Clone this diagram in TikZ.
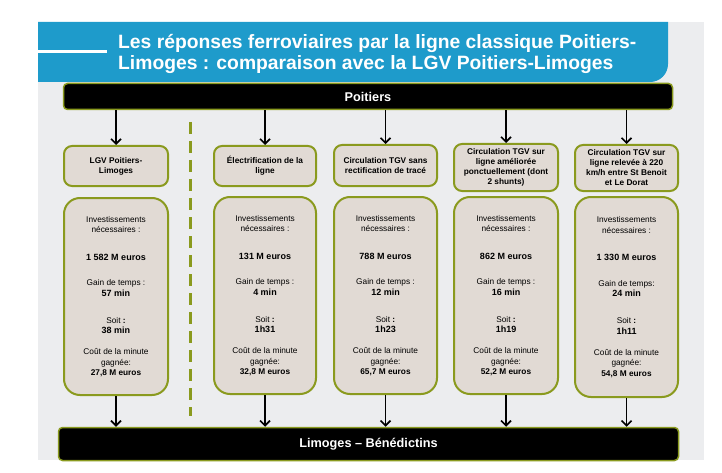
\documentclass[tikz,border=0pt]{standalone}
\usepackage{fontspec}
\setmainfont{Liberation Sans}
\usetikzlibrary{arrows.meta}
\definecolor{hdrblue}{HTML}{1E9BCB}
\definecolor{bggray}{HTML}{ECEDEF}
\definecolor{oliveln}{HTML}{8A9A1E}
\definecolor{boxfill}{HTML}{E1DAD4}
\newcommand{\rsval}[1]{{\fontsize{9}{10.5}\selectfont\bfseries #1}}
\newcommand{\rsinfo}[5]{Investissements\\nécessaires :\\[17pt]\rsval{#1}\\[15pt]#2\\\rsval{#3}\\[16.5pt]Soit \textbf{:}\\\rsval{#4}\\[10.5pt]Coût de la minute\\gagnée:\\\textbf{#5}}
\begin{document}
\begin{tikzpicture}[x=1pt,y=-1pt,
  bar/.style={draw=oliveln, line width=1.5pt, fill=black, rounded corners=4pt, text=white,
    font=\bfseries\fontsize{12.7}{15}\selectfont, inner sep=0pt},
  hbox/.style={draw=oliveln, line width=2pt, fill=boxfill, rounded corners=8pt, align=center,
    font=\bfseries\fontsize{8.3}{10}\selectfont, inner sep=0pt},
  ibox/.style={draw=oliveln, line width=2pt, fill=boxfill, rounded corners=16pt, align=center,
    font=\fontsize{8.3}{10.5}\selectfont, inner sep=0pt},
  flow/.style={line width=1.6pt, -{Straight Barb[length=5pt,width=10pt]}},
  sepline/.style={draw=oliveln, line width=3pt, dash pattern=on 12pt off 7pt}
]
\useasboundingbox (0,0) rectangle (722,473);
\fill[white] (0,0) rectangle (722,473);
\fill[bggray] (38,22) rectangle (704,460);
% header band
\fill[hdrblue] (38,22) -- (668,22) -- (668,64) .. controls (668,74) and (660,82) .. (650,82) -- (38,82) -- cycle;
\draw[white, line width=3pt] (38,52) -- (107,52);
\node[anchor=north west, text=white, align=left, inner sep=0pt,
  font=\bfseries\fontsize{19.3}{21}\selectfont] (title) at (118,34)
  {Les réponses ferroviaires par la ligne classique Poitiers-\\Limoges : comparaison avec la LGV Poitiers-Limoges};
% bars
\node[bar, minimum width=609pt, minimum height=26pt] (poit) at (368,96.5) {Poitiers};
\node[bar, minimum width=620pt, minimum height=33pt] (limo) at (368.5,444) {Limoges -- Bénédictins};
% title boxes
\node[hbox, minimum width=104pt, minimum height=40pt] (t1) at (116,166) {LGV Poitiers-\\Limoges};
\node[hbox, minimum width=102pt, minimum height=40pt] (t2) at (265,166) {Électrification de la\\ligne};
\node[hbox, minimum width=103pt, minimum height=41pt] (t3) at (385.5,165.5) {Circulation TGV sans\\rectification de tracé};
\node[hbox, minimum width=104pt, minimum height=47pt] (t4) at (506,167.5) {Circulation TGV sur\\ligne améliorée\\ponctuellement (dont\\2 shunts)};
\node[hbox, minimum width=103pt, minimum height=46pt] (t5) at (626.5,168) {Circulation TGV sur\\ligne relevée à 220\\km/h entre St Benoit\\et Le Dorat};
% info boxes
\node[ibox, minimum width=104pt, minimum height=197pt] (b1) at (116,296.5) {\rsinfo{1 582 M euros}{Gain de temps :}{57 min}{38 min}{27,8 M euros}};
\node[ibox, minimum width=102pt, minimum height=197pt] (b2) at (265,295.5) {\rsinfo{131 M euros}{Gain de temps :}{4 min}{1h31}{32,8 M euros}};
\node[ibox, minimum width=103pt, minimum height=197pt] (b3) at (385.5,295.5) {\rsinfo{788 M euros}{Gain de temps :}{12 min}{1h23}{65,7 M euros}};
\node[ibox, minimum width=104pt, minimum height=197pt] (b4) at (506,295.5) {\rsinfo{862 M euros}{Gain de temps :}{16 min}{1h19}{52,2 M euros}};
\node[ibox, minimum width=103pt, minimum height=200pt] (b5) at (626.5,297) {\rsinfo{1 330 M euros}{Gain de temps:}{24 min}{1h11}{54,8 M euros}};
% separator
\coordinate (dtop) at (190,122);
\coordinate (dbot) at (190,416);
\draw[sepline] (dtop) -- (dbot);
% connectors
\foreach \i in {1,...,5}{
  \draw[flow] (poit.south -| t\i.north) -- (t\i.north);
  \draw[flow] (b\i.south) -- (b\i.south |- limo.north);
}
\end{tikzpicture}
\end{document}
